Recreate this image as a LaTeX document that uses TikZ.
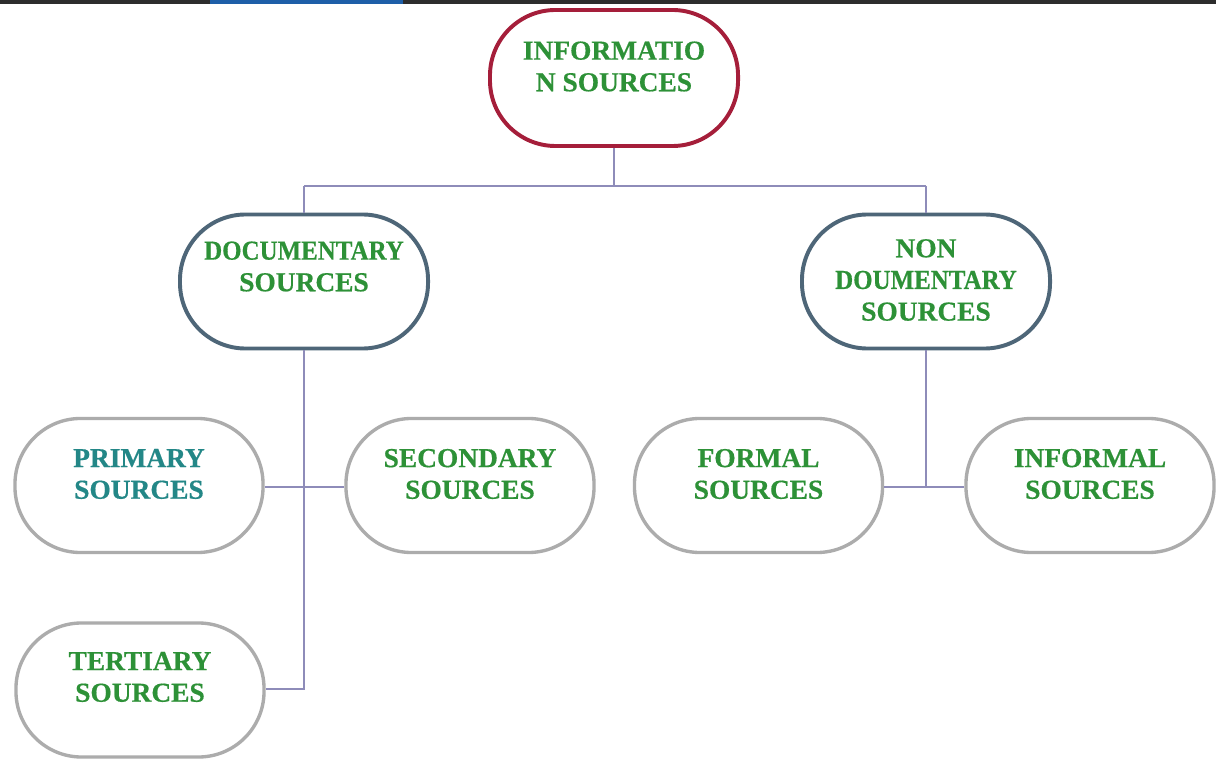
\documentclass[tikz,border=0pt]{standalone}
\usepackage{fontspec}
\usepackage{graphicx}
\setmainfont{Liberation Serif}
\newfontfamily\lblfont{Liberation Serif Bold}[FakeBold=0.5]
\newcommand{\narrow}[1]{\scalebox{0.91}[1]{#1}}
\definecolor{txtgreen}{RGB}{45,145,55}
\definecolor{txtteal}{RGB}{35,135,135}
\definecolor{redline}{RGB}{165,30,58}
\definecolor{slateline}{RGB}{78,102,120}
\definecolor{grayline}{RGB}{172,172,172}
\definecolor{conn}{RGB}{142,140,185}
\definecolor{topbar}{RGB}{45,45,45}
\definecolor{topblue}{RGB}{30,95,168}
\begin{document}
\begin{tikzpicture}[x=0.025cm,y=-0.025cm,
  pill/.style={draw, rectangle, rounded corners=1.64cm, minimum width=6.2cm, minimum height=3.35cm, fill=white},
  toppill/.style={pill, draw=redline, line width=2.8pt, minimum height=3.4cm},
  midpill/.style={pill, draw=slateline, line width=2.8pt},
  lowpill/.style={pill, draw=grayline, line width=2.4pt},
  lbl/.style={align=center, font=\lblfont\fontsize{19.5}{22.5}\selectfont, text=txtgreen, inner sep=0pt},
  link/.style={draw=conn, line width=1.3pt}]
\useasboundingbox (0,0) rectangle (1216,760);
\fill[white] (0,0) rectangle (1216,760);
\fill[topbar] (0,0) rectangle (1216,4);
\fill[topblue] (210,0) rectangle (403,4);

% shapes
\node[toppill] (info) at (614,78) {};
\node[midpill] (doc) at (304,281.5) {};
\node[midpill] (non) at (926,281.5) {};
\node[lowpill] (prim) at (139,485.5) {};
\node[lowpill] (sec) at (470,485.5) {};
\node[lowpill] (form) at (758.5,485.5) {};
\node[lowpill] (inform) at (1090,485.5) {};
\node[lowpill] (tert) at (140,690) {};

% labels
\node[lbl] (infoT) at (614,66.5) {INFORMATIO\\N SOURCES};
\node[lbl] (docT) at (304,266.5) {\narrow{DOCUMENTARY}\\SOURCES};
\node[lbl] (nonT) at (926,280) {NON\\\narrow{DOUMENTARY}\\SOURCES};
\node[lbl, text=txtteal] (primT) at (139,474) {PRIMARY\\SOURCES};
\node[lbl] (secT) at (470,474) {SECONDARY\\SOURCES};
\node[lbl] (formT) at (758.5,474) {FORMAL\\SOURCES};
\node[lbl] (informT) at (1090,474) {INFORMAL\\SOURCES};
\node[lbl] (tertT) at (140,677) {TERTIARY\\SOURCES};

% junction coordinates
\coordinate (j1) at (614,186);
\coordinate (jd) at (304,186);
\coordinate (jn) at (926,186);
\coordinate (jdp) at (304,487);
\coordinate (jdt) at (304,689);
\coordinate (jnf) at (926,487);

% connectors
\path[link] (info.south) -- (j1);
\path[link] (jd) -- (jn);
\path[link] (jd) -- (doc.north);
\path[link] (jn) -- (non.north);
\path[link] (doc.south) -- (jdt) -- (tert.east |- jdt);
\path[link] (prim.east |- jdp) -- (sec.west |- jdp);
\path[link] (non.south) -- (jnf);
\path[link] (form.east |- jnf) -- (inform.west |- jnf);
\end{tikzpicture}
\end{document}
